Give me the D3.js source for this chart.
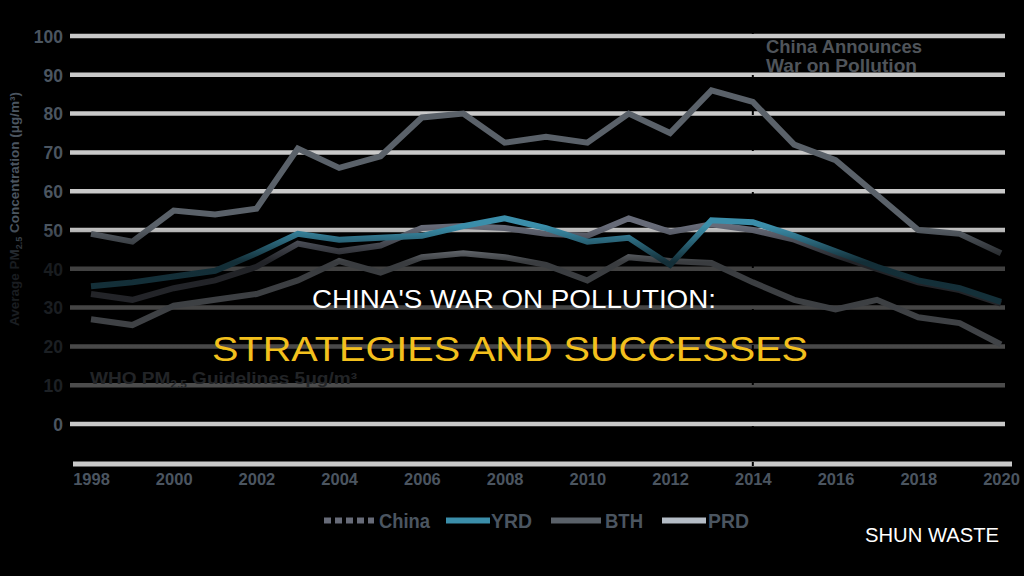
<!DOCTYPE html>
<html>
<head>
<meta charset="utf-8">
<script src="https://cdn.jsdelivr.net/npm/d3@7"></script>
<style>
  html, body { margin: 0; padding: 0; background: #000; }
  svg { display: block; }
</style>
</head>
<body>
<svg id="chart" width="1024" height="576"></svg>
<script>
// ---- data ----
const years = d3.range(1998, 2021);
const yearTicks = [1998, 2000, 2002, 2004, 2006, 2008, 2010, 2012, 2014, 2016, 2018, 2020];
const valueTicks = [0, 10, 20, 30, 40, 50, 60, 70, 80, 90, 100];
const seriesNames = ["China", "YRD", "BTH", "PRD"];
const chinaValues = [33.5, 32, 35, 37, 40.5, 46.5, 44.5, 46, 50.5, 51, 50.5, 49, 48.5, 53, 49.5, 51.5, 50, 47.5, 43.5, 40, 36.5, 34.5, 31];
const yrdValues   = [35.5, 36.5, 38, 39.5, 44, 49, 47.5, 48, 48.5, 51, 53, 50.5, 47, 48, 41, 52.5, 52, 48.5, 44.5, 40.5, 37, 35, 31.5];
const bthValues   = [49, 47, 55, 54, 55.5, 71, 66, 69, 79, 80, 72.5, 74, 72.5, 80, 75, 86, 83, 72, 68, 59, 50, 49, 44];
const prdValues   = [27, 25.5, 30.5, 32, 33.5, 37, 42, 39, 43, 44, 43, 41, 37, 43, 42, 41.5, 36.5, 32, 29.5, 32, 27.5, 26, 20.5];
const announceYear = 2014;
const whoLabel = ["WHO PM", "2.5", " Guidelines 5μg/m³"];
const yTitle = ["Average PM", "2.5", " Concentration (μg/m³)"];
const annotationLines = ["China Announces", "War on Pollution"];
const titleLine1 = "CHINA'S WAR ON POLLUTION:";
const titleLine2 = "STRATEGIES AND SUCCESSES";
const brand = "SHUN WASTE";

// ---- styles ----
const colors = { China: "#676b78", YRD: "#3b8eaa", BTH: "#5a6169", PRD: "#b4bcc6" };
const labelColor = "#4b5560";
const font = "Liberation Sans, Arial, sans-serif";

const svg = d3.select("#chart");
svg.append("rect").attr("width", 1024).attr("height", 576).attr("fill", "#000");

const x = d3.scaleLinear().domain([1998, 2020]).range([91, 1001]);
const y = d3.scaleLinear().domain([0, 100]).range([424, 36]);

// gridlines
svg.append("g").selectAll("line").data(valueTicks).join("line")
  .attr("x1", 70).attr("x2", 1005)
  .attr("y1", d => y(d)).attr("y2", d => y(d))
  .attr("stroke", "#c9c9c9").attr("stroke-width", 4.5);

// x axis baseline
svg.append("line").attr("x1", 73).attr("x2", 1012).attr("y1", 464).attr("y2", 464)
  .attr("stroke", "#c9c9c9").attr("stroke-width", 5);

// vertical dashed marker at announcement year
svg.append("line")
  .attr("x1", x(announceYear)).attr("x2", x(announceYear))
  .attr("y1", 30).attr("y2", 466)
  .attr("stroke", "#000").attr("stroke-width", 2).attr("stroke-dasharray", "4,5");

// x axis labels
const xAxis = d3.axisBottom(x).tickValues(yearTicks).tickFormat(d3.format("d")).tickSize(0).tickPadding(9);
const gx = svg.append("g").attr("transform", "translate(0,464)").call(xAxis);
gx.select(".domain").remove();
gx.selectAll("text").attr("fill", labelColor).attr("font-family", font)
  .attr("font-weight", "bold").attr("font-size", 16.5);

// y axis labels
const yAxis = d3.axisLeft(y).tickValues(valueTicks).tickSize(0).tickPadding(7);
const gy = svg.append("g").attr("transform", "translate(70,0)").call(yAxis);
gy.select(".domain").remove();
gy.selectAll("text").attr("fill", labelColor).attr("font-family", font)
  .attr("font-weight", "bold").attr("font-size", 17.5).attr("dy", "0.36em");

// y title
const yt = svg.append("text")
  .attr("transform", "translate(19,209) rotate(-90)")
  .attr("text-anchor", "middle")
  .attr("fill", labelColor).attr("font-family", font)
  .attr("font-weight", "bold").attr("font-size", 13.5);
yt.append("tspan").text(yTitle[0]);
yt.append("tspan").attr("font-size", 9).attr("dy", 3).text(yTitle[1]);
yt.append("tspan").attr("dy", -3).text(yTitle[2]);

// WHO label
const who = svg.append("text")
  .attr("x", 90).attr("y", 384)
  .attr("textLength", 267).attr("lengthAdjust", "spacingAndGlyphs")
  .attr("fill", "#5c6168").attr("font-family", font)
  .attr("font-weight", "bold").attr("font-size", 16);
who.append("tspan").text(whoLabel[0]);
who.append("tspan").attr("font-size", 10).attr("dy", 4).text(whoLabel[1]);
who.append("tspan").attr("dy", -4).text(whoLabel[2]);

// lines
const line = d3.line().x((d, i) => x(years[i])).y(d => y(d));
const drawOrder = [
  { name: "PRD", values: prdValues },
  { name: "BTH", values: bthValues },
  { name: "China", values: chinaValues },
  { name: "YRD", values: yrdValues }
];
svg.append("g").selectAll("path").data(drawOrder).join("path")
  .attr("d", d => line(d.values))
  .attr("fill", "none")
  .attr("stroke", d => colors[d.name])
  .attr("stroke-width", 6)
  .attr("stroke-linejoin", "miter")
  .attr("stroke-linecap", "butt");

// annotation
svg.append("g").selectAll("text").data(annotationLines).join("text")
  .attr("x", 766).attr("y", (d, i) => 53 + i * 19)
  .attr("textLength", (d, i) => i === 0 ? 156 : 151).attr("lengthAdjust", "spacingAndGlyphs")
  .attr("fill", "#4f545a").attr("font-family", font)
  .attr("font-weight", "bold").attr("font-size", 18.5)
  .text(d => d);

// legend
const legendItems = [
  { name: "China", x1: 324, x2: 374, tx: 379, tw: 51 },
  { name: "YRD", x1: 446, x2: 490, tx: 491, tw: 41 },
  { name: "BTH", x1: 551, x2: 601, tx: 605, tw: 38 },
  { name: "PRD", x1: 662, x2: 706, tx: 708, tw: 41 }
];
const lg = svg.append("g");
lg.selectAll("line").data(legendItems).join("line")
  .attr("x1", d => d.x1).attr("x2", d => d.x2).attr("y1", 520.5).attr("y2", 520.5)
  .attr("stroke", d => colors[d.name]).attr("stroke-width", 6)
  .attr("stroke-dasharray", d => d.name === "China" ? "7,4" : null);
lg.selectAll("text").data(legendItems).join("text")
  .attr("x", d => d.tx).attr("y", 528)
  .attr("textLength", d => d.tw).attr("lengthAdjust", "spacingAndGlyphs")
  .attr("fill", labelColor).attr("font-family", font)
  .attr("font-weight", "bold").attr("font-size", 20)
  .text(d => d.name);

// dark overlay band behind the title
const defs = svg.append("defs");
const grad = defs.append("linearGradient").attr("id", "band")
  .attr("gradientUnits", "userSpaceOnUse").attr("x1", 0).attr("y1", 0).attr("x2", 0).attr("y2", 576);
[[0, 0], [226 / 576, 0], [262 / 576, 0.68], [392 / 576, 0.62], [412 / 576, 0], [1, 0]].forEach(s => {
  grad.append("stop").attr("offset", s[0]).attr("stop-color", "#000").attr("stop-opacity", s[1]);
});
svg.append("rect").attr("x", 0).attr("y", 0).attr("width", 1024).attr("height", 576).attr("fill", "url(#band)");

// titles
svg.append("text")
  .attr("x", 514).attr("y", 308).attr("text-anchor", "middle")
  .attr("textLength", 404).attr("lengthAdjust", "spacingAndGlyphs")
  .attr("fill", "#ffffff").attr("font-family", font)
  .attr("font-size", 26).text(titleLine1);
svg.append("text")
  .attr("x", 510).attr("y", 361).attr("text-anchor", "middle")
  .attr("textLength", 596).attr("lengthAdjust", "spacingAndGlyphs")
  .attr("fill", "#f3c01d").attr("font-family", font)
  .attr("font-size", 35).text(titleLine2);

svg.append("text")
  .attr("x", 999).attr("y", 542).attr("text-anchor", "end")
  .attr("textLength", 134).attr("lengthAdjust", "spacingAndGlyphs")
  .attr("fill", "#ffffff").attr("font-family", font)
  .attr("font-size", 20).text(brand);
</script>
</body>
</html>
